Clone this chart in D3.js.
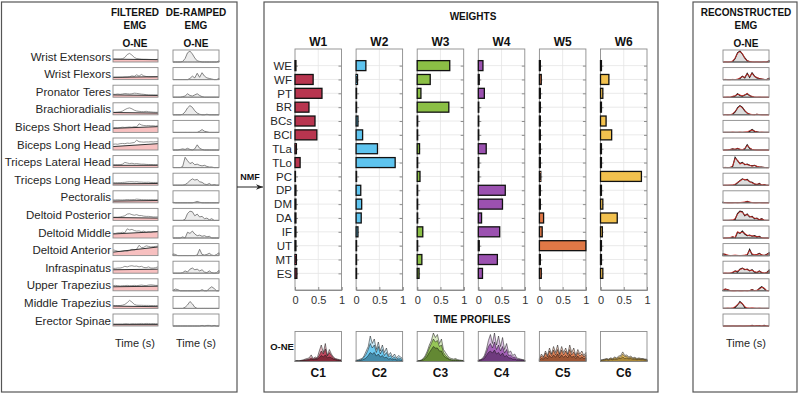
<!DOCTYPE html>
<html>
<head>
<meta charset="utf-8">
<script src="https://cdn.jsdelivr.net/npm/d3@7"></script>
<style>
  body { margin: 0; background: #fff; }
  svg { font-family: "Liberation Sans", Arial, sans-serif; }
</style>
</head>
<body>
<div id="chart"></div>
<script>
// ---- data ----
var muscles = ["Wrist Extensors", "Wrist Flexors", "Pronator Teres", "Brachioradialis",
  "Biceps Short Head", "Biceps Long Head", "Triceps Lateral Head", "Triceps Long Head",
  "Pectoralis", "Deltoid Posterior", "Deltoid Middle", "Deltoid Anterior",
  "Infraspinatus", "Upper Trapezius", "Middle Trapezius", "Erector Spinae"];
var abbrs = ["WE", "WF", "PT", "BR", "BCs", "BCl", "TLa", "TLo", "PC", "DP", "DM", "DA", "IF", "UT", "MT", "ES"];

var weightNames = ["W1", "W2", "W3", "W4", "W5", "W6"];
var synNames = ["C1", "C2", "C3", "C4", "C5", "C6"];
var synColors = ["#b8354f", "#5ec4ef", "#8bbf45", "#9b51b0", "#e07846", "#f2c14e"];
var xTicks = [0, 0.5, 1];

var w1 = [0.02, 0.39, 0.58, 0.30, 0.43, 0.47, 0.03, 0.11, 0.01, 0.02, 0.02, 0.02, 0.02, 0.02, 0.03, 0.04];
var w2 = [0.21, 0.03, 0.01, 0.01, 0.04, 0.14, 0.46, 0.84, 0.01, 0.10, 0.12, 0.11, 0.04, 0.01, 0.01, 0.01];
var w3 = [0.70, 0.28, 0.08, 0.68, 0.01, 0.01, 0.05, 0.01, 0.06, 0.01, 0.01, 0.01, 0.12, 0.01, 0.10, 0.04];
var w4 = [0.10, 0.02, 0.13, 0.01, 0.01, 0.01, 0.17, 0.01, 0.01, 0.58, 0.52, 0.07, 0.46, 0.02, 0.41, 0.09];
var w5 = [0.02, 0.04, 0.02, 0.02, 0.02, 0.02, 0.02, 0.02, 0.03, 0.02, 0.02, 0.09, 0.06, 1.00, 0.02, 0.04];
var w6 = [0.02, 0.18, 0.05, 0.02, 0.12, 0.24, 0.02, 0.02, 0.88, 0.02, 0.05, 0.36, 0.04, 0.02, 0.02, 0.05];
var weights = [w1, w2, w3, w4, w5, w6];

// filtered EMG: ramp [start, end] and signal, as fraction of box height
var rampLevels = [[0.25, 0.2], [0.2, 0.25], [0.2, 0.15], [0.2, 0.15], [0.35, 0.5], [0.3, 0.55], [0.2, 0.2], [0.12, 0.15],
  [0.15, 0.2], [0.25, 0.2], [0.35, 0.55], [0.3, 0.75], [0.3, 0.35], [0.35, 0.4], [0.2, 0.15], [0.12, 0.12]];
var filteredEMG = [
  [0.25,0.25,0.25,0.25,0.28,0.4,0.65,0.75,0.6,0.4,0.3,0.27,0.25,0.24,0.24,0.23,0.22,0.22,0.21,0.25],
  [0.2,0.2,0.2,0.2,0.2,0.22,0.22,0.25,0.32,0.28,0.42,0.3,0.45,0.32,0.27,0.25,0.24,0.24,0.24,0.25],
  [0.25,0.25,0.28,0.25,0.28,0.32,0.3,0.28,0.3,0.35,0.33,0.3,0.27,0.25,0.22,0.2,0.2,0.2,0.2,0.2],
  [0.22,0.22,0.24,0.26,0.32,0.45,0.55,0.6,0.52,0.4,0.33,0.3,0.28,0.27,0.3,0.27,0.25,0.23,0.22,0.22],
  [0.4,0.42,0.4,0.42,0.45,0.43,0.45,0.47,0.45,0.5,0.48,0.75,0.65,0.6,0.58,0.6,0.57,0.58,0.55,0.58],
  [0.5,0.52,0.5,0.55,0.57,0.55,0.6,0.58,0.62,0.65,0.85,0.72,0.7,0.68,0.7,0.7,0.72,0.7,0.72,0.72],
  [0.25,0.25,0.25,0.25,0.3,0.45,0.4,0.35,0.38,0.33,0.35,0.32,0.3,0.3,0.28,0.27,0.27,0.26,0.26,0.26],
  [0.22,0.22,0.22,0.22,0.24,0.25,0.28,0.3,0.3,0.28,0.3,0.27,0.27,0.25,0.25,0.26,0.24,0.24,0.24,0.24],
  [0.25,0.25,0.26,0.25,0.25,0.26,0.28,0.27,0.27,0.28,0.32,0.3,0.28,0.27,0.27,0.27,0.27,0.27,0.27,0.27],
  [0.28,0.28,0.28,0.3,0.35,0.4,0.55,0.58,0.5,0.45,0.5,0.42,0.42,0.37,0.35,0.35,0.33,0.3,0.3,0.3],
  [0.4,0.4,0.45,0.45,0.5,0.45,0.8,0.7,0.75,0.65,0.6,0.62,0.55,0.6,0.5,0.55,0.5,0.55,0.55,0.58],
  [0.5,0.45,0.38,0.35,0.38,0.42,0.38,0.45,0.55,0.5,0.55,0.9,0.7,0.72,0.85,0.8,0.75,0.78,0.8,0.82],
  [0.42,0.42,0.45,0.45,0.5,0.6,0.55,0.62,0.65,0.6,0.62,0.55,0.6,0.5,0.48,0.55,0.45,0.45,0.48,0.55],
  [0.45,0.47,0.45,0.42,0.45,0.45,0.47,0.45,0.45,0.47,0.45,0.47,0.5,0.47,0.45,0.5,0.52,0.5,0.47,0.47],
  [0.25,0.25,0.25,0.25,0.28,0.35,0.5,0.7,0.55,0.35,0.28,0.27,0.27,0.26,0.26,0.26,0.25,0.25,0.25,0.25],
  [0.18,0.18,0.18,0.18,0.18,0.2,0.2,0.18,0.2,0.2,0.2,0.2,0.22,0.2,0.22,0.22,0.2,0.22,0.2,0.2]
];
var derampedEMG = [
  [0,0,0,0,0.05,0.3,0.8,0.95,0.7,0.35,0.1,0.05,0,0,0,0,0,0,0,0.1],
  [0,0,0,0,0,0,0,0.1,0.3,0.15,0.55,0.2,0.6,0.3,0.15,0.1,0.05,0,0,0.1],
  [0,0,0,0,0.05,0.1,0.3,0.15,0.1,0.2,0.3,0.15,0.05,0,0,0,0,0,0,0],
  [0,0,0,0,0.05,0.25,0.6,0.8,0.65,0.35,0.15,0.05,0,0,0.05,0,0,0,0,0],
  [0,0,0,0,0,0,0,0,0,0,0,0.1,0.25,0.1,0.05,0,0,0,0,0],
  [0,0,0,0.05,0.1,0.05,0.15,0.05,0,0.1,0.45,0.15,0.05,0,0,0,0,0,0,0],
  [0,0,0,0,0.1,0.9,0.6,0.35,0.45,0.25,0.3,0.2,0.15,0.2,0.1,0.05,0.05,0,0,0],
  [0,0,0,0,0,0.05,0.2,0.4,0.55,0.45,0.5,0.3,0.25,0.1,0.05,0.15,0,0.05,0,0],
  [0.05,0,0,0,0,0,0,0,0,0.05,0.12,0.05,0,0,0,0,0,0,0,0],
  [0,0,0,0,0,0.1,0.6,0.8,0.75,0.4,0.55,0.3,0.35,0.15,0.2,0.05,0.15,0,0,0],
  [0,0,0,0,0.1,0,0.5,0.4,0.6,0.35,0.2,0.25,0.15,0.2,0.1,0.15,0,0,0,0],
  [0.15,0.1,0,0,0,0,0,0,0,0,0.05,0.55,0.1,0.05,0.1,0.2,0.05,0,0.1,0.25],
  [0,0,0,0,0.05,0.2,0.1,0.35,0.45,0.3,0.35,0.2,0.3,0.1,0.05,0.2,0.05,0,0.05,0.25],
  [0.05,0.15,0.1,0,0,0,0,0,0,0,0,0,0.1,0,0,0.2,0.35,0.2,0,0],
  [0,0,0,0,0,0.1,0.3,0.6,0.4,0.1,0,0,0,0,0,0,0,0,0,0],
  [0,0,0,0,0,0,0,0,0,0,0,0,0.05,0,0.05,0.05,0,0.05,0,0]
];
// reconstructed EMG (red) drawn over the de-ramped signal (black)
var reconEMG = [
  [0,0.02,0,0.02,0.08,0.35,0.75,0.9,0.75,0.3,0.12,0.03,0.02,0,0.02,0,0,0.03,0,0.08],
  [0,0.02,0,0,0.02,0,0.05,0.15,0.25,0.2,0.5,0.25,0.55,0.25,0.2,0.08,0.05,0.02,0,0.08],
  [0,0,0.02,0,0.08,0.12,0.25,0.2,0.12,0.18,0.35,0.12,0.08,0.02,0,0.02,0,0,0,0],
  [0,0.02,0,0.02,0.08,0.3,0.55,0.75,0.6,0.4,0.12,0.08,0.02,0,0.05,0.02,0,0,0,0],
  [0,0,0,0,0.02,0,0,0.02,0,0.03,0.05,0.15,0.2,0.12,0.03,0,0.02,0,0,0],
  [0,0,0.02,0.05,0.08,0.08,0.12,0.08,0.03,0.12,0.4,0.2,0.05,0.02,0,0,0,0,0,0],
  [0,0.02,0,0.02,0.15,0.8,0.65,0.3,0.4,0.3,0.25,0.22,0.12,0.18,0.12,0.05,0.03,0.02,0,0],
  [0,0,0,0.02,0.03,0.08,0.25,0.35,0.5,0.5,0.45,0.32,0.2,0.12,0.08,0.12,0.03,0.05,0,0],
  [0.03,0.02,0,0,0,0.02,0,0.02,0.05,0.08,0.1,0.08,0.02,0,0,0.02,0,0,0,0],
  [0,0,0,0.02,0.05,0.15,0.55,0.75,0.7,0.45,0.5,0.35,0.3,0.2,0.15,0.08,0.12,0.02,0,0],
  [0,0,0.02,0.05,0.12,0.05,0.55,0.45,0.5,0.4,0.25,0.2,0.2,0.15,0.12,0.1,0.03,0,0,0],
  [0.12,0.12,0.05,0,0.02,0.05,0.02,0,0.02,0.05,0.1,0.45,0.15,0.08,0.08,0.15,0.08,0.02,0.08,0.2],
  [0,0.02,0,0.02,0.1,0.15,0.2,0.3,0.4,0.35,0.3,0.25,0.25,0.15,0.08,0.15,0.08,0.02,0.05,0.2],
  [0.1,0.15,0.08,0.02,0,0,0.02,0,0,0.02,0,0.03,0.08,0.02,0.05,0.15,0.3,0.25,0.03,0],
  [0,0,0.02,0,0.05,0.15,0.35,0.5,0.45,0.15,0.05,0.02,0.05,0.02,0,0.02,0,0,0,0],
  [0,0,0,0,0.02,0,0,0.02,0,0,0.02,0.03,0.03,0.02,0.04,0.03,0.02,0.03,0.02,0]
];

// time profiles: three overlaid traces per synergy (light, mid, dark)
var profC1 = [
  [0.02,0.03,0.02,0.04,0.05,0.08,0.1,0.12,0.22,0.1,0.15,0.12,0.35,0.55,0.3,0.6,0.2,0.4,0.25,0.15,0.1,0.08,0.06,0.05],
  [0.02,0.02,0.02,0.03,0.04,0.05,0.06,0.08,0.12,0.08,0.1,0.1,0.2,0.35,0.25,0.42,0.18,0.3,0.2,0.12,0.08,0.06,0.05,0.04],
  [0.01,0.02,0.02,0.02,0.03,0.04,0.05,0.05,0.08,0.06,0.08,0.08,0.12,0.2,0.15,0.22,0.12,0.15,0.12,0.08,0.06,0.04,0.03,0.03]];
var profC2 = [
  [0.05,0.05,0.08,0.1,0.2,0.35,0.5,0.85,0.6,0.75,0.4,0.65,0.35,0.55,0.3,0.45,0.2,0.3,0.15,0.25,0.12,0.2,0.15,0.1],
  [0.03,0.04,0.05,0.08,0.15,0.25,0.4,0.6,0.45,0.55,0.3,0.5,0.25,0.4,0.2,0.3,0.15,0.2,0.1,0.15,0.08,0.12,0.1,0.06],
  [0.02,0.02,0.03,0.05,0.08,0.12,0.2,0.3,0.25,0.3,0.18,0.25,0.15,0.2,0.12,0.15,0.08,0.1,0.06,0.08,0.05,0.06,0.05,0.03]];
var profC3 = [
  [0.02,0.03,0.05,0.1,0.2,0.35,0.55,0.7,0.95,0.8,0.9,0.6,0.75,0.4,0.3,0.2,0.12,0.1,0.08,0.1,0.06,0.05,0.04,0.03],
  [0.02,0.02,0.04,0.08,0.15,0.28,0.45,0.6,0.75,0.65,0.7,0.5,0.55,0.3,0.2,0.14,0.08,0.06,0.05,0.06,0.04,0.03,0.03,0.02],
  [0.01,0.02,0.03,0.05,0.1,0.18,0.3,0.4,0.5,0.45,0.45,0.35,0.35,0.2,0.14,0.1,0.06,0.04,0.03,0.04,0.03,0.02,0.02,0.02]];
var profC4 = [
  [0.05,0.06,0.1,0.2,0.4,0.7,0.9,0.6,0.95,0.55,0.85,0.5,0.8,0.4,0.6,0.3,0.35,0.2,0.25,0.12,0.1,0.08,0.06,0.05],
  [0.04,0.05,0.08,0.15,0.3,0.5,0.6,0.45,0.65,0.4,0.55,0.35,0.5,0.28,0.4,0.2,0.22,0.14,0.15,0.08,0.07,0.06,0.05,0.04],
  [0.03,0.04,0.06,0.1,0.2,0.3,0.35,0.28,0.38,0.25,0.3,0.2,0.28,0.16,0.2,0.12,0.12,0.08,0.08,0.05,0.05,0.04,0.04,0.03]];
var profC5 = [
  [0.1,0.25,0.15,0.35,0.2,0.45,0.25,0.5,0.3,0.55,0.25,0.5,0.3,0.45,0.25,0.55,0.3,0.45,0.2,0.4,0.25,0.35,0.2,0.3],
  [0.08,0.18,0.12,0.28,0.15,0.35,0.2,0.38,0.22,0.4,0.2,0.38,0.22,0.35,0.2,0.4,0.22,0.32,0.15,0.3,0.18,0.25,0.15,0.22],
  [0.05,0.1,0.08,0.15,0.1,0.2,0.12,0.22,0.14,0.25,0.12,0.22,0.14,0.2,0.12,0.24,0.14,0.18,0.1,0.18,0.1,0.15,0.1,0.12]];
var profC6 = [
  [0.05,0.06,0.08,0.1,0.08,0.12,0.1,0.15,0.12,0.18,0.2,0.32,0.2,0.22,0.15,0.18,0.12,0.14,0.1,0.12,0.1,0.1,0.08,0.08],
  [0.04,0.05,0.06,0.08,0.06,0.1,0.08,0.12,0.1,0.14,0.15,0.24,0.16,0.17,0.12,0.14,0.1,0.11,0.08,0.1,0.08,0.08,0.06,0.06],
  [0.03,0.04,0.05,0.06,0.05,0.07,0.06,0.08,0.07,0.1,0.1,0.15,0.1,0.12,0.09,0.1,0.07,0.08,0.06,0.07,0.06,0.06,0.05,0.05]];
var profiles = [profC1, profC2, profC3, profC4, profC5, profC6];

// ---- layout ----
var width = 800, height = 396;
var svg = d3.select("#chart").append("svg")
    .attr("width", width)
    .attr("height", height);

var boxGray = "#8c8c8c", textDark = "#262626";

// panel frames
[[1.5, 2, 235.5, 390], [264, 2, 394, 390], [693, 2, 104, 390]].forEach(function(p) {
  svg.append("rect")
      .attr("x", p[0]).attr("y", p[1])
      .attr("width", p[2]).attr("height", p[3])
      .attr("fill", "none")
      .attr("stroke", "#555")
      .attr("stroke-width", 1.2);
});

function boldText(x, y, s, size) {
  svg.append("text")
      .attr("x", x).attr("y", y)
      .attr("text-anchor", "middle")
      .attr("font-size", size + "px")
      .attr("font-weight", "bold")
      .attr("fill", "#111")
      .text(s);
}

// rows of mini plots
var rowTop = d3.scaleLinear().domain([0, 15]).range([50, 314]);
var miniH = 12;

function miniPlot(x0, x1, top, draw) {
  var x = d3.scaleLinear().domain([0, 19]).range([x0, x1]);
  var y = d3.scaleLinear().domain([0, 1]).range([top + miniH, top + 0.5]);
  var g = svg.append("g");
  draw(g, x, y);
  g.append("rect")
      .attr("x", x0).attr("y", top)
      .attr("width", x1 - x0).attr("height", miniH)
      .attr("fill", "none")
      .attr("stroke", boxGray)
      .attr("stroke-width", 0.9);
}

// left panel
boldText(135, 16, "FILTERED", 10);
boldText(135, 29, "EMG", 10);
boldText(196, 16, "DE-RAMPED", 10);
boldText(196, 29, "EMG", 10);
boldText(135, 47, "O-NE", 10);
boldText(196, 47, "O-NE", 10);

muscles.forEach(function(name, i) {
  var top = rowTop(i);
  svg.append("text")
      .attr("x", 111).attr("y", top + 10.5)
      .attr("text-anchor", "end")
      .attr("font-size", "11.5px")
      .attr("fill", textDark)
      .text(name);

  // filtered EMG with ramp
  miniPlot(113, 158, top, function(g, x, y) {
    var r = rampLevels[i];
    g.append("path")
        .attr("d", d3.area().x(d => x(d[0])).y0(y(0)).y1(d => y(d[1]))([[0, r[0]], [19, r[1]]]))
        .attr("fill", "#f7c0c0");
    g.append("path")
        .attr("d", d3.line().x((d, j) => x(j)).y(d => y(d))(filteredEMG[i]))
        .attr("fill", "none").attr("stroke", "#666").attr("stroke-width", 0.7);
    g.append("path")
        .attr("d", d3.line().x(d => x(d[0])).y(d => y(d[1]))([[0, r[0]], [19, r[1]]]))
        .attr("fill", "none").attr("stroke", "#333").attr("stroke-width", 1);
  });

  // de-ramped EMG
  miniPlot(173, 219, top, function(g, x, y) {
    g.append("path")
        .attr("d", d3.area().x((d, j) => x(j)).y0(y(0)).y1(d => y(d))(derampedEMG[i]))
        .attr("fill", "#ececec")
        .attr("stroke", "#555").attr("stroke-width", 0.7);
  });

  // reconstructed EMG
  miniPlot(723, 769, top, function(g, x, y) {
    g.append("path")
        .attr("d", d3.area().x((d, j) => x(j)).y0(y(0)).y1(d => y(d))(derampedEMG[i]))
        .attr("fill", "#dedede")
        .attr("stroke", "#111").attr("stroke-width", 1.1);
    g.append("path")
        .attr("d", d3.line().x((d, j) => x(j)).y(d => y(d))(reconEMG[i]))
        .attr("fill", "none").attr("stroke", "#e8302a").attr("stroke-width", 0.8);
  });
});

[135, 196, 746].forEach(function(cx) {
  svg.append("text")
      .attr("x", cx).attr("y", 347)
      .attr("text-anchor", "middle")
      .attr("font-size", "11px")
      .attr("fill", textDark)
      .text("Time (s)");
});

// right panel header
boldText(746, 16, "RECONSTRUCTED", 10);
boldText(746, 29, "EMG", 10);
boldText(746, 47, "O-NE", 10);

// NMF arrow
svg.append("defs").append("marker")
    .attr("id", "arrow")
    .attr("viewBox", "0 0 10 10")
    .attr("refX", 10).attr("refY", 5)
    .attr("markerWidth", 7).attr("markerHeight", 7)
    .attr("orient", "auto")
  .append("path")
    .attr("d", "M0,1 L10,5 L0,9 L3,5 Z")
    .attr("fill", "#222");
svg.append("line")
    .attr("x1", 237).attr("x2", 263)
    .attr("y1", 187).attr("y2", 187)
    .attr("stroke", "#222").attr("stroke-width", 1)
    .attr("marker-end", "url(#arrow)");
svg.append("text")
    .attr("x", 250).attr("y", 180)
    .attr("text-anchor", "middle")
    .attr("font-size", "9px").attr("font-weight", "bold")
    .attr("fill", "#111")
    .text("NMF");

// ---- weights ----
boldText(473, 20, "WEIGHTS", 10);

var chartX = d3.scaleBand().domain(weightNames).range([295, 647]).paddingInner(0.239);
var cw = chartX.bandwidth();
var top0 = 49, bot0 = 290;
var x = d3.scaleLinear().domain([0, 1]).range([0, cw]);
var y = d3.scalePoint().domain(abbrs).range([top0, bot0]).padding(1.2);
var barH = y.step() * 0.72;

weightNames.forEach(function(wn, k) {
  var g = svg.append("g")
      .attr("transform", "translate(" + chartX(wn) + ",0)");

  // grid
  g.append("g").selectAll("line")
      .data(abbrs)
    .join("line")
      .attr("x1", 0).attr("x2", cw)
      .attr("y1", d => y(d)).attr("y2", d => y(d))
      .attr("stroke", "#e4e4e4").attr("stroke-width", 0.8);
  g.append("line")
      .attr("x1", x(0.5)).attr("x2", x(0.5))
      .attr("y1", top0).attr("y2", bot0)
      .attr("stroke", "#e4e4e4").attr("stroke-width", 0.8);

  // box and ticks
  g.append("g")
      .attr("transform", "translate(0," + bot0 + ")")
      .call(d3.axisBottom(x).tickValues(xTicks).tickSize(-3).tickPadding(6).tickFormat(d3.format("~g")))
      .call(a => a.select(".domain").attr("stroke", boxGray))
      .call(a => a.selectAll(".tick line").attr("stroke", boxGray))
      .call(a => a.selectAll("text").attr("font-size", "11px").attr("fill", "#333").attr("font-family", null));
  g.append("g")
      .call(d3.axisLeft(y).tickSize(-3).tickPadding(3).tickFormat(k === 0 ? null : ""))
      .call(a => a.select(".domain").remove())
      .call(a => a.selectAll(".tick line").attr("stroke", boxGray))
      .call(a => a.selectAll("text").attr("font-size", "11.5px").attr("fill", textDark).attr("font-family", null));
  g.append("g")
      .attr("transform", "translate(" + cw + ",0)")
      .call(d3.axisRight(y).tickSize(-3).tickFormat(""))
      .call(a => a.select(".domain").remove())
      .call(a => a.selectAll(".tick line").attr("stroke", boxGray));
  g.append("rect")
      .attr("x", 0).attr("y", top0)
      .attr("width", cw).attr("height", bot0 - top0)
      .attr("fill", "none").attr("stroke", boxGray).attr("stroke-width", 0.9);

  // bars
  g.append("g").selectAll("rect")
      .data(weights[k])
    .join("rect")
      .attr("x", x(0))
      .attr("y", (d, i) => y(abbrs[i]) - barH / 2)
      .attr("width", d => x(d) - x(0))
      .attr("height", barH)
      .attr("fill", synColors[k])
      .attr("stroke", "#111")
      .attr("stroke-width", 1.3);

  g.append("text")
      .attr("x", cw / 2).attr("y", 46)
      .attr("text-anchor", "middle")
      .attr("font-size", "12px").attr("font-weight", "bold")
      .attr("fill", "#111")
      .text(wn);
});

// ---- time profiles ----
boldText(472, 323, "TIME PROFILES", 10);
svg.append("text")
    .attr("x", 282).attr("y", 350)
    .attr("text-anchor", "middle")
    .attr("font-size", "9.5px").attr("font-weight", "bold")
    .attr("fill", "#111")
    .text("O-NE");

var pTop = 331.5, pBot = 361.5;
var px = d3.scaleLinear().domain([0, 23]).range([0, cw]);
var py = d3.scaleLinear().domain([0, 1]).range([pBot, pTop]);

synNames.forEach(function(cn, k) {
  var g = svg.append("g")
      .attr("transform", "translate(" + chartX(weightNames[k]) + ",0)");
  var base = d3.color(synColors[k]);
  var shades = [d3.interpolateRgb(synColors[k], "#ffffff")(0.6), synColors[k], base.darker(1.2).formatHex()];
  profiles[k].forEach(function(trace, t) {
    g.append("path")
        .attr("d", d3.area().x((d, j) => px(j)).y0(pBot).y1(d => py(d))(trace))
        .attr("fill", shades[t])
        .attr("fill-opacity", 0.85)
        .attr("stroke", "#111")
        .attr("stroke-width", 0.5);
  });
  g.append("rect")
      .attr("x", 0).attr("y", pTop)
      .attr("width", cw).attr("height", pBot - pTop)
      .attr("fill", "none").attr("stroke", boxGray).attr("stroke-width", 0.9);
  g.append("text")
      .attr("x", cw / 2).attr("y", 377)
      .attr("text-anchor", "middle")
      .attr("font-size", "12px").attr("font-weight", "bold")
      .attr("fill", "#111")
      .text(cn);
});
</script>
</body>
</html>
